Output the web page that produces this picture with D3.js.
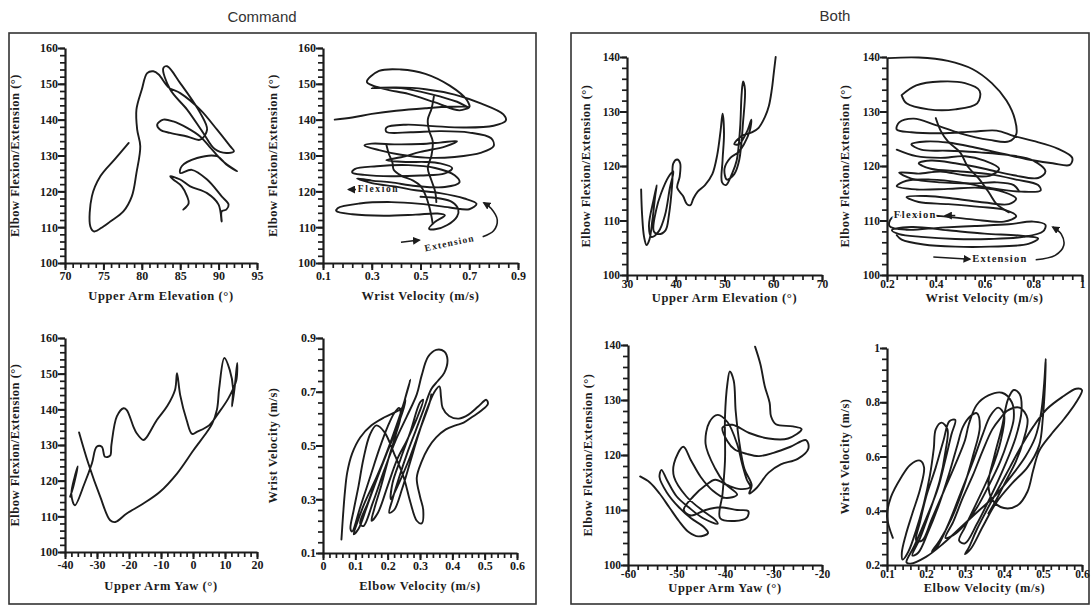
<!DOCTYPE html>
<html>
<head>
<meta charset="utf-8">
<script src="https://cdn.jsdelivr.net/npm/d3@7"></script>
<style>
  body { margin: 0; background: #fff; }
  .tick text { font-family: "Liberation Serif", "Times New Roman", serif; font-weight: bold; fill: #1a1a1a; }
</style>
</head>
<body>
<svg id="fig" width="1092" height="607"></svg>
<script>
// ---------- tick labels ----------
const elbowTicks160 = [100, 110, 120, 130, 140, 150, 160];
const elbowTicks140 = [100, 110, 120, 130, 140];
const cmdElevTicks = [70, 75, 80, 85, 90, 95];
const cmdWristTicks = [0.1, 0.3, 0.5, 0.7, 0.9];
const cmdYawTicks = [-40, -30, -20, -10, 0, 10, 20];
const cmdElbowVelTicks = [0, 0.1, 0.2, 0.3, 0.4, 0.5, 0.6];
const cmdWristVelTicks = [0.1, 0.3, 0.5, 0.7, 0.9];
const bothElevTicks = [30, 40, 50, 60, 70];
const bothWristTicks = [0.2, 0.4, 0.6, 0.8, 1];
const bothYawTicks = [-60, -50, -40, -30, -20];
const bothElbowVelTicks = [0.1, 0.2, 0.3, 0.4, 0.5, 0.6];
const bothWristVelTicks = [0.2, 0.4, 0.6, 0.8, 1];

// ---------- Command: elbow angle vs upper arm elevation ----------
const cmdElevation = [[78.3,133.5],[76.5,129],[74.6,124.2],[73.5,118.6],[73.3,110.2],[73.8,108.8],[75,110.2],[75.9,111.6],[77.6,114.4],[78.7,118.6],[79.3,125.1],[79.8,132.6],[79.4,137.2],[79.3,142.8],[80,148.4],[80.7,153],[81.5,153.5],[82.2,152.6],[83.5,149],[85,147.4],[87.6,142.8],[89.8,137.2],[91.5,132.6],[92,131.2],[91,130.7],[89.5,131.8],[88,136.3],[85.9,142.8],[83.7,148.4],[82.8,154.4],[83.3,154.9],[85,150.2],[87.6,141.9],[88.5,137.2],[87.6,134.4],[85.9,135.3],[83.7,136.3],[82.4,137.2],[82,138.6],[82.8,140],[84.1,139.5],[85.9,137.7],[87.6,135.3],[88.8,132.5],[90.5,128.5],[92.4,125.6],[91,127.5],[89.8,129.8],[87.2,129.3],[85.2,127],[85,125.1],[86.5,126],[88.5,123.3],[90.4,118.6],[91.3,116.3],[91,114.9],[90.4,114.4],[90.4,111.6],[90,116.3],[88.5,119.5],[86.3,121.4],[85,123.3],[83.7,124.2],[84.1,123.3],[85.2,121.4],[85.9,118.6],[86.1,116.7],[85.4,114.9]];

// ---------- Command: elbow angle vs wrist velocity ----------
const cmdWrist = [[0.148,140],[0.22,140.6],[0.30,141.6],[0.40,142.5],[0.52,143.2],[0.62,143.6],[0.70,143.5],[0.66,142.6],[0.56,144.8],[0.45,147.2],[0.35,148.6],[0.28,150.5],[0.33,153.6],[0.42,154],[0.52,152.8],[0.62,149.5],[0.69,145.5],[0.70,143.5],[0.65,145],[0.55,147],[0.42,148.8],[0.30,148.8],[0.40,149],[0.52,148.5],[0.64,147],[0.75,144.5],[0.84,141.5],[0.85,139.7],[0.80,138.3],[0.68,137.8],[0.55,138.2],[0.44,138.6],[0.36,137.8],[0.36,136.6],[0.46,136.5],[0.58,136.8],[0.70,136.4],[0.79,134.8],[0.80,132.6],[0.75,130.8],[0.64,129.6],[0.52,129.4],[0.42,130.2],[0.33,131.5],[0.27,132.8],[0.30,133.3],[0.40,133.1],[0.50,133.2],[0.58,133.6],[0.65,134],[0.60,132.5],[0.50,131],[0.42,129.5],[0.36,128.7],[0.44,128.2],[0.52,128.2],[0.58,127.8],[0.63,126.5],[0.60,125],[0.50,124.4],[0.38,124.2],[0.27,124.6],[0.22,125.2],[0.23,126.2],[0.32,127],[0.45,127.3],[0.56,126.5],[0.64,124.5],[0.66,122.5],[0.60,121.2],[0.48,121.5],[0.38,122.5],[0.30,123],[0.24,123.6],[0.30,122.3],[0.40,121.3],[0.48,120.3],[0.58,119.5],[0.68,118],[0.73,116.5],[0.70,115],[0.62,115.5],[0.50,116.5],[0.38,117],[0.25,116.6],[0.16,115.3],[0.155,114.5],[0.22,113.6],[0.35,113.2],[0.48,113.5],[0.57,113.8],[0.60,113.3],[0.56,111.5],[0.535,109.6],[0.56,109.4],[0.61,110.6],[0.65,113],[0.655,115],[0.63,117],[0.58,118],[0.50,118.5]];
const cmdWristDrift1 = [[0.36,133],[0.37,130.5],[0.385,128],[0.39,126],[0.42,124.4],[0.47,123],[0.5,121.5],[0.52,119],[0.535,116],[0.545,113],[0.55,111]];
const cmdWristDrift2 = [[0.555,146.5],[0.545,143],[0.53,140],[0.535,137],[0.55,134],[0.545,130],[0.53,126.5],[0.545,123],[0.56,120],[0.565,117]];

// ---------- Command: elbow angle vs upper arm yaw ----------
const cmdYaw = [[-35.6,133.5],[-32.7,124.8],[-29,115.5],[-25.9,108.9],[-24.3,108.4],[-20.7,110.8],[-15.5,113.6],[-10.3,116.9],[-5,122],[0.2,128.6],[4.4,133.7],[6,136],[7.5,140],[8.2,146],[9.8,154.4],[11.5,151],[12.5,146],[12.2,140.8],[13,146],[13.8,153],[13.5,148],[11,143],[8,139],[5,135.5],[1.2,133.7],[-0.3,133.1],[-2,137],[-4,144],[-5,150.1],[-5.6,145.5],[-8,141],[-11.3,137],[-14.4,132.3],[-15.5,131.4],[-17.6,133.3],[-18.6,135.1],[-20.7,139.8],[-21.7,140.3],[-23.8,138],[-25.5,130],[-25.9,127],[-27.5,126.7],[-28.5,129.5],[-30.1,129.5],[-31.6,124.8],[-34,119],[-36.9,113.1],[-38,116],[-37,121],[-36,124],[-37.5,118],[-38.4,115.5]];

// ---------- Command: wrist velocity vs elbow velocity ----------
const cmdVelocity = [[0.057,0.15],[0.062,0.24],[0.068,0.33],[0.075,0.40],[0.09,0.47],[0.115,0.53],[0.15,0.575],[0.19,0.605],[0.225,0.625],[0.245,0.64],[0.255,0.67],[0.25,0.64],[0.23,0.57],[0.20,0.48],[0.165,0.38],[0.13,0.29],[0.105,0.21],[0.095,0.17],[0.11,0.19],[0.135,0.27],[0.165,0.37],[0.20,0.48],[0.235,0.59],[0.255,0.68],[0.27,0.745],[0.265,0.72],[0.24,0.62],[0.205,0.50],[0.17,0.39],[0.14,0.29],[0.115,0.21],[0.125,0.20],[0.155,0.29],[0.19,0.41],[0.225,0.52],[0.26,0.61],[0.29,0.69],[0.305,0.76],[0.325,0.83],[0.35,0.856],[0.375,0.85],[0.385,0.82],[0.375,0.77],[0.355,0.74],[0.335,0.71],[0.31,0.63],[0.285,0.55],[0.26,0.47],[0.235,0.38],[0.215,0.30],[0.205,0.25],[0.22,0.26],[0.245,0.34],[0.27,0.44],[0.295,0.54],[0.32,0.63],[0.345,0.70],[0.36,0.72],[0.365,0.68],[0.37,0.64],[0.39,0.61],[0.42,0.60],[0.45,0.615],[0.48,0.645],[0.505,0.67],[0.51,0.655],[0.49,0.63],[0.46,0.605],[0.435,0.585],[0.41,0.575],[0.38,0.56],[0.35,0.53],[0.325,0.49],[0.305,0.44],[0.29,0.38],[0.30,0.31],[0.31,0.26],[0.305,0.21],[0.29,0.22],[0.27,0.29],[0.25,0.38],[0.22,0.47],[0.19,0.55],[0.165,0.575],[0.145,0.54],[0.125,0.45],[0.11,0.35],[0.095,0.26],[0.085,0.19],[0.09,0.18],[0.115,0.27],[0.145,0.38],[0.175,0.49],[0.20,0.57],[0.22,0.62],[0.235,0.64],[0.24,0.61],[0.225,0.54],[0.20,0.44],[0.18,0.35],[0.16,0.27],[0.15,0.22],[0.17,0.25],[0.20,0.35],[0.23,0.45],[0.26,0.52],[0.29,0.60],[0.31,0.67],[0.30,0.66],[0.27,0.55],[0.24,0.45],[0.215,0.36],[0.21,0.30],[0.235,0.36],[0.27,0.46],[0.30,0.56],[0.33,0.66],[0.335,0.69]];

// ---------- Both: elbow angle vs upper arm elevation ----------
const bothElevation = [[32.9,115.7],[33.1,111],[33.5,107],[34,105.5],[34.6,106.5],[35.2,110],[35.8,114.6],[36.1,116.5],[35.5,114],[34.5,109],[35,107],[36.5,108],[37.8,111],[38.8,116],[39.5,119],[38.5,118],[37,115],[36,112],[35.5,108],[36.5,107.5],[37.9,108.2],[38.6,111],[39.3,117],[39.5,120.5],[40.3,121.2],[40.9,120.5],[40.8,118],[40.3,116],[41.5,114.5],[42.3,113],[43,112.8],[43.6,114],[44.5,115.3],[46,116.5],[47.5,118.5],[48.5,122],[49.2,126.5],[49.6,129.6],[49.9,126],[49.6,121],[49.5,117],[50.3,116.5],[51.5,118.5],[52.5,121],[53.2,127],[53.5,133],[53.8,135.5],[54.2,134],[53.8,128],[53,121],[52,118.5],[50.5,117.5],[50,119.5],[51.2,121.5],[52.8,122.5],[54,124],[55.2,126.5],[55.5,128.5],[54.7,126.5],[53,124],[52,124],[53.5,125.5],[55.7,126.2],[57,127],[58.3,129],[59.1,131],[59.7,134],[60.1,137],[60.5,140]];

// ---------- Both: elbow angle vs wrist velocity ----------
const bothWrist = [[0.205,139.8],[0.33,139.9],[0.45,139.3],[0.55,137.8],[0.63,135.2],[0.69,132],[0.725,128.5],[0.73,125.8],[0.70,124.5],[0.62,124.8],[0.50,126],[0.40,127.5],[0.31,128.7],[0.25,128],[0.24,126.7],[0.30,126.2],[0.42,126],[0.55,126.3],[0.65,126.5],[0.72,125.5],[0.80,124.6],[0.90,123.2],[0.96,121.5],[0.95,120.2],[0.88,120.5],[0.78,121.2],[0.68,122.2],[0.56,123.4],[0.45,124.3],[0.36,124.5],[0.30,124],[0.34,123],[0.45,122.8],[0.58,122.5],[0.70,122],[0.80,121],[0.85,119],[0.82,117.8],[0.72,118.3],[0.60,119.5],[0.48,120.5],[0.38,121],[0.33,120.5],[0.38,119.5],[0.50,119],[0.62,118.5],[0.73,117.5],[0.82,116.5],[0.83,115.5],[0.75,115.3],[0.62,116],[0.50,117],[0.38,117.5],[0.28,117.3],[0.24,116.3],[0.32,115.7],[0.45,115.8],[0.58,116],[0.68,115.2],[0.73,114],[0.70,113],[0.60,113.3],[0.48,114],[0.36,114.5],[0.28,114.3],[0.33,113.4],[0.45,113],[0.58,112.5],[0.68,112],[0.73,110.8],[0.68,109.8],[0.55,110.2],[0.42,110.8],[0.30,111],[0.22,110.5],[0.21,109],[0.28,108.3],[0.42,108.7],[0.56,109],[0.70,109.3],[0.80,109.8],[0.85,109.2],[0.84,108],[0.76,107],[0.62,106.6],[0.48,106.6],[0.34,107],[0.25,107.5],[0.22,108.2],[0.30,108.8],[0.45,108.2],[0.60,107.6],[0.75,107.2],[0.82,106.7],[0.78,105.7],[0.62,105.2],[0.48,105.2],[0.35,105.6],[0.26,106.5],[0.24,107.3]];
const bothWristTopLoop = [[0.26,133],[0.32,134.8],[0.42,135.5],[0.52,135.2],[0.58,133.8],[0.57,131.5],[0.48,130.4],[0.37,130.4],[0.28,131.5],[0.26,133]];
const bothWristMid = [[0.24,123],[0.32,121.8],[0.42,121.5],[0.52,121.8],[0.60,121],[0.66,119.5],[0.62,118.2],[0.52,118.3],[0.42,119],[0.33,118.6],[0.25,118.8],[0.30,117.7],[0.42,117],[0.55,116.8],[0.65,117],[0.72,116.5],[0.74,115.5]];
const bothWristDrift = [[0.40,128.8],[0.42,126.5],[0.45,124.5],[0.50,122.5],[0.53,120],[0.58,117.5],[0.62,115],[0.65,113],[0.70,111.5]];

// ---------- Both: elbow angle vs upper arm yaw ----------
const bothYaw = [[-57.5,116.1],[-55.5,115],[-53.5,113],[-51.5,110.5],[-49.5,108],[-47.5,106],[-45.5,105.2],[-43.5,105.8],[-44.5,107],[-47,108.5],[-49.5,110.5],[-52,113.2],[-53.5,116],[-53.1,117.3],[-52,115.5],[-50,112.5],[-47.5,110.5],[-44.5,108.5],[-41.5,107.5],[-42,108.2],[-44.5,109.8],[-48,112.5],[-50.5,116],[-50.5,118.5],[-48.6,121.5],[-47,119],[-45,116],[-42.5,113.5],[-40,112.2],[-37.5,112.8],[-40,114.8],[-42,117.5],[-44,122],[-43.2,126],[-41.5,127.3],[-39.5,126],[-37.5,122],[-36.5,118.5],[-35.5,115.5],[-34.8,114.2],[-36.8,113.8],[-39.5,114.5],[-42,115.5],[-44,114.5],[-46.5,112.5],[-48.5,110],[-47,109],[-44,110],[-41,110.5],[-37.5,110],[-35.2,109.8],[-35.5,108.6],[-38,108],[-41,108.5],[-40.5,113],[-40,119],[-40,127],[-39.5,133],[-39,135.2],[-38.2,133.5],[-37.8,128],[-37,122],[-36,117.5],[-34.5,114.5],[-35,113],[-33.5,114],[-31,116.8],[-28.5,118.3],[-25,119.3],[-22.8,121.2],[-23.3,122.7],[-26.5,121.5],[-30,120.4],[-33,119.8],[-35.5,120.2],[-38,121],[-39.5,122.5],[-40.5,125],[-38.5,125.5],[-35,124],[-31,123],[-27,123],[-24.2,124.7],[-26,125.2],[-29.5,125.6],[-30.5,127],[-30.8,129.5],[-31.8,132.5],[-32.7,136.5],[-33.8,139.7]];

// ---------- Both: wrist velocity vs elbow velocity ----------
const bothVelocity = [[0.115,0.30],[0.10,0.38],[0.11,0.45],[0.135,0.52],[0.16,0.57],[0.185,0.585],[0.195,0.56],[0.185,0.48],[0.165,0.39],[0.148,0.31],[0.138,0.245],[0.14,0.22],[0.155,0.25],[0.175,0.33],[0.195,0.43],[0.21,0.53],[0.22,0.63],[0.225,0.70],[0.24,0.725],[0.255,0.70],[0.25,0.62],[0.235,0.51],[0.21,0.40],[0.185,0.30],[0.165,0.235],[0.18,0.245],[0.205,0.32],[0.235,0.43],[0.26,0.54],[0.28,0.64],[0.295,0.71],[0.315,0.75],[0.33,0.76],[0.338,0.71],[0.32,0.60],[0.295,0.48],[0.265,0.37],[0.235,0.29],[0.215,0.25],[0.23,0.27],[0.26,0.36],[0.29,0.47],[0.32,0.58],[0.345,0.68],[0.365,0.75],[0.385,0.78],[0.40,0.755],[0.392,0.66],[0.365,0.54],[0.33,0.43],[0.30,0.34],[0.285,0.29],[0.30,0.28],[0.33,0.35],[0.365,0.45],[0.40,0.56],[0.43,0.67],[0.445,0.77],[0.44,0.83],[0.425,0.845],[0.41,0.81],[0.395,0.71],[0.375,0.60],[0.36,0.50],[0.37,0.44],[0.40,0.41],[0.435,0.42],[0.46,0.47],[0.475,0.55],[0.49,0.62],[0.52,0.68],[0.555,0.74],[0.585,0.80],[0.60,0.845],[0.585,0.85],[0.55,0.82],[0.51,0.775],[0.475,0.71],[0.445,0.64],[0.415,0.56],[0.385,0.48],[0.355,0.40],[0.33,0.33],[0.31,0.265],[0.30,0.24],[0.315,0.26],[0.345,0.34],[0.38,0.43],[0.42,0.50],[0.46,0.56],[0.49,0.64],[0.50,0.75],[0.505,0.86],[0.507,0.96],[0.503,0.87],[0.495,0.76],[0.48,0.67],[0.455,0.60],[0.42,0.53],[0.38,0.46],[0.335,0.40],[0.29,0.34],[0.245,0.28],[0.20,0.23],[0.16,0.205],[0.15,0.21],[0.17,0.27],[0.20,0.37],[0.23,0.48],[0.25,0.59],[0.265,0.68],[0.275,0.735],[0.26,0.73],[0.245,0.66],[0.225,0.56],[0.20,0.45],[0.185,0.36],[0.175,0.29],[0.19,0.29],[0.215,0.37],[0.245,0.47],[0.275,0.57],[0.30,0.66],[0.31,0.72],[0.33,0.79],[0.36,0.825],[0.395,0.835],[0.42,0.80],[0.425,0.74],[0.41,0.66],[0.39,0.58],[0.36,0.49],[0.33,0.41],[0.30,0.35],[0.27,0.31],[0.25,0.30],[0.27,0.36],[0.295,0.45],[0.32,0.53],[0.345,0.62],[0.37,0.70],[0.39,0.74],[0.41,0.77],[0.44,0.78],[0.46,0.74],[0.45,0.66],[0.43,0.58],[0.405,0.51],[0.38,0.44],[0.36,0.39]];

// ---------- annotation anchors (data units) ----------
const cmdFlexionArrow = [[0.235,120.5],[0.205,120.5]];
const cmdExtensionArrow = [[0.42,105.8],[0.495,106.4]];
const cmdExtensionCurl = [[0.755,107.3],[0.80,109],[0.815,112],[0.79,115.2],[0.76,116.8]];
const bothFlexionArrow = [[0.48,110.9],[0.44,110.9]];
const bothExtensionArrow = [[0.39,103.3],[0.54,102.9]];
const bothExtensionCurl = [[0.81,102.8],[0.89,103.6],[0.925,105.4],[0.915,107.5],[0.88,108.8]];

// ---------- layout ----------
const INK = "#1c1c1c";
const svg = d3.select("#fig");

const defs = svg.append("defs");
defs.append("marker")
  .attr("id", "head")
  .attr("viewBox", "0 0 10 10")
  .attr("refX", 8).attr("refY", 5)
  .attr("markerWidth", 5).attr("markerHeight", 5)
  .attr("orient", "auto-start-reverse")
  .append("path").attr("d", "M0,0L10,5L0,10z").attr("fill", INK);

// group frames
svg.append("rect").attr("x", 9).attr("y", 33).attr("width", 527).attr("height", 571)
  .attr("fill", "none").attr("stroke", "#333").attr("stroke-width", 1.6);
svg.append("rect").attr("x", 571).attr("y", 33).attr("width", 518).attr("height", 571)
  .attr("fill", "none").attr("stroke", "#333").attr("stroke-width", 1.6);

svg.append("text").attr("x", 262).attr("y", 22).attr("text-anchor", "middle")
  .style("font-family", "'Liberation Sans', Arial, sans-serif").style("font-size", "15px").attr("fill", "#333")
  .text("Command");
svg.append("text").attr("x", 835).attr("y", 21).attr("text-anchor", "middle")
  .style("font-family", "'Liberation Sans', Arial, sans-serif").style("font-size", "15px").attr("fill", "#333")
  .text("Both");

const ELBOW = "Elbow Flexion/Extension (°)";
// gaps: [x-title offset below axis, y-title offset left of axis, x tick padding, tick font size]
const panels = [
  { frame: [65, 257, 48, 263], xDomain: [70, 95], yDomain: [100, 160], xTicks: cmdElevTicks, yTicks: elbowTicks160,
    xMinor: 1, yMinor: 2, xTitle: "Upper Arm Elevation (°)", yTitle: ELBOW, gaps: [34, 49, 1, 12], traces: [cmdElevation] },
  { frame: [323, 518, 48, 263], xDomain: [0.1, 0.9], yDomain: [100, 160], xTicks: cmdWristTicks, yTicks: elbowTicks160,
    xMinor: 0.04, yMinor: 2, xTitle: "Wrist Velocity (m/s)", yTitle: ELBOW, gaps: [34, 49, 1, 12],
    traces: [cmdWrist, cmdWristDrift1, cmdWristDrift2], notes: "cmd" },
  { frame: [65, 257, 338, 552], xDomain: [-40, 20], yDomain: [100, 160], xTicks: cmdYawTicks, yTicks: elbowTicks160,
    xMinor: 2, yMinor: 2, xTitle: "Upper Arm Yaw (°)", yTitle: ELBOW, gaps: [35, 49, 1, 12], traces: [cmdYaw] },
  { frame: [323, 517, 338, 553], xDomain: [0, 0.6], yDomain: [0.1, 0.9], xTicks: cmdElbowVelTicks, yTicks: cmdWristVelTicks,
    xMinor: 0.02, yMinor: 0.04, xTitle: "Elbow Velocity (m/s)", yTitle: "Wrist Velocity (m/s)", gaps: [34, 49, 1, 12], traces: [cmdVelocity] },
  { frame: [627, 822, 57, 275], xDomain: [30, 70], yDomain: [100, 140], xTicks: bothElevTicks, yTicks: elbowTicks140,
    xMinor: 2, yMinor: 2, xTitle: "Upper Arm Elevation (°)", yTitle: ELBOW, gaps: [24, 40, -2, 11.5], traces: [bothElevation] },
  { frame: [887, 1082, 57, 275], xDomain: [0.2, 1], yDomain: [100, 140], xTicks: bothWristTicks, yTicks: elbowTicks140,
    xMinor: 0.04, yMinor: 2, xTitle: "Wrist Velocity (m/s)", yTitle: ELBOW, gaps: [24, 41, -2, 11.5],
    traces: [bothWrist, bothWristTopLoop, bothWristMid, bothWristDrift], notes: "both" },
  { frame: [628, 822, 345, 565], xDomain: [-60, -20], yDomain: [100, 140], xTicks: bothYawTicks, yTicks: elbowTicks140,
    xMinor: 2, yMinor: 2, xTitle: "Upper Arm Yaw (°)", yTitle: ELBOW, gaps: [24, 39, -2, 11.5], traces: [bothYaw] },
  { frame: [887, 1082, 348, 565], xDomain: [0.1, 0.6], yDomain: [0.2, 1], xTicks: bothElbowVelTicks, yTicks: bothWristVelTicks,
    xMinor: 0.02, yMinor: 0.04, xTitle: "Elbow Velocity (m/s)", yTitle: "Wrist Velocity (m/s)", gaps: [24, 41, -2, 11.5], traces: [bothVelocity] }
];

function minorValues(domain, step) {
  const n = Math.round((domain[1] - domain[0]) / step);
  return d3.range(n + 1).map(i => domain[0] + i * step);
}

const labelFont = "'Liberation Serif', 'Times New Roman', serif";

panels.forEach(p => {
  const [x0, x1, y0, y1] = p.frame;
  const [xGap, yGap, xPad, tickFont] = p.gaps;
  const x = d3.scaleLinear().domain(p.xDomain).range([x0, x1]);
  const y = d3.scaleLinear().domain(p.yDomain).range([y1, y0]);
  const g = svg.append("g");

  // minor ticks: a dense comb along each axis
  const xm = d3.axisBottom(x).tickValues(minorValues(p.xDomain, p.xMinor)).tickSize(5).tickFormat("");
  const ym = d3.axisLeft(y).tickValues(minorValues(p.yDomain, p.yMinor)).tickSize(5).tickFormat("");
  const xmG = g.append("g").attr("transform", `translate(0,${y1})`).call(xm);
  xmG.select(".domain").remove();
  xmG.selectAll(".tick line").attr("stroke", INK).attr("stroke-width", 1.7);
  const ymG = g.append("g").attr("transform", `translate(${x0},0)`).call(ym);
  ymG.select(".domain").remove();
  ymG.selectAll(".tick line").attr("stroke", INK).attr("stroke-width", 1.7);

  // major axes
  const xa = g.append("g").attr("transform", `translate(0,${y1})`)
    .call(d3.axisBottom(x).tickValues(p.xTicks).tickSize(7).tickSizeOuter(0).tickPadding(xPad).tickFormat(d => String(d)));
  xa.select(".domain").attr("stroke", INK).attr("stroke-width", 2.2);
  xa.selectAll(".tick line").attr("stroke", INK).attr("stroke-width", 2);
  xa.selectAll(".tick text").style("font-size", tickFont + "px");
  const ya = g.append("g").attr("transform", `translate(${x0},0)`)
    .call(d3.axisLeft(y).tickValues(p.yTicks).tickSize(7).tickSizeOuter(0).tickPadding(0).tickFormat(d => String(d)));
  ya.select(".domain").attr("stroke", INK).attr("stroke-width", 2.2);
  ya.selectAll(".tick line").attr("stroke", INK).attr("stroke-width", 2);
  ya.selectAll(".tick text").style("font-size", tickFont + "px");

  // axis titles
  g.append("text").attr("x", (x0 + x1) / 2).attr("y", y1 + xGap).attr("text-anchor", "middle")
    .attr("dominant-baseline", "middle")
    .style("font-family", labelFont).style("font-weight", "bold").style("font-size", "12.5px")
    .style("letter-spacing", "0.6px").attr("fill", INK)
    .text(p.xTitle);
  g.append("text").attr("transform", `translate(${x0 - yGap},${(y0 + y1) / 2}) rotate(-90)`)
    .attr("text-anchor", "middle").attr("dominant-baseline", "middle")
    .style("font-family", labelFont).style("font-weight", "bold").style("font-size", "12.5px")
    .style("letter-spacing", "0.5px").attr("fill", INK)
    .text(p.yTitle);

  // trajectories
  const line = d3.line().x(d => x(d[0])).y(d => y(d[1])).curve(d3.curveCatmullRom.alpha(0.5));
  p.traces.forEach(t => {
    g.append("path").attr("d", line(t)).attr("fill", "none")
      .attr("stroke", INK).attr("stroke-width", 1.9).attr("stroke-linejoin", "round").attr("stroke-linecap", "round");
  });

  // movement direction notes
  const noteStyle = sel => sel.style("font-family", labelFont).style("font-weight", "bold")
    .style("font-size", "9.5px").attr("fill", INK);
  const arrow = pts => g.append("path").attr("d", line(pts)).attr("fill", "none")
    .attr("stroke", INK).attr("stroke-width", 1.6).attr("marker-end", "url(#head)");

  if (p.notes === "cmd") {
    arrow(cmdFlexionArrow);
    g.append("text").attr("x", x(0.243)).attr("y", y(120.3)).attr("dominant-baseline", "middle")
      .style("letter-spacing", "1.6px").call(noteStyle).text("Flexion");
    arrow(cmdExtensionArrow);
    g.append("text").attr("transform", `translate(${x(0.62)},${y(105.3)}) rotate(-12)`)
      .attr("text-anchor", "middle").attr("dominant-baseline", "middle")
      .style("letter-spacing", "1.2px").call(noteStyle).text("Extension");
    arrow(cmdExtensionCurl);
  }
  if (p.notes === "both") {
    g.append("text").attr("x", x(0.228)).attr("y", y(110.9)).attr("dominant-baseline", "middle")
      .style("letter-spacing", "1.4px").attr("stroke", "#fff").attr("stroke-width", 3).style("paint-order", "stroke")
      .call(noteStyle).style("font-size", "10.5px").text("Flexion");
    arrow(bothFlexionArrow);
    arrow(bothExtensionArrow);
    g.append("text").attr("x", x(0.55)).attr("y", y(102.9)).attr("dominant-baseline", "middle")
      .style("letter-spacing", "1.2px").attr("stroke", "#fff").attr("stroke-width", 3).style("paint-order", "stroke")
      .call(noteStyle).style("font-size", "10.5px").text("Extension");
    arrow(bothExtensionCurl);
  }
});
</script>
</body>
</html>
